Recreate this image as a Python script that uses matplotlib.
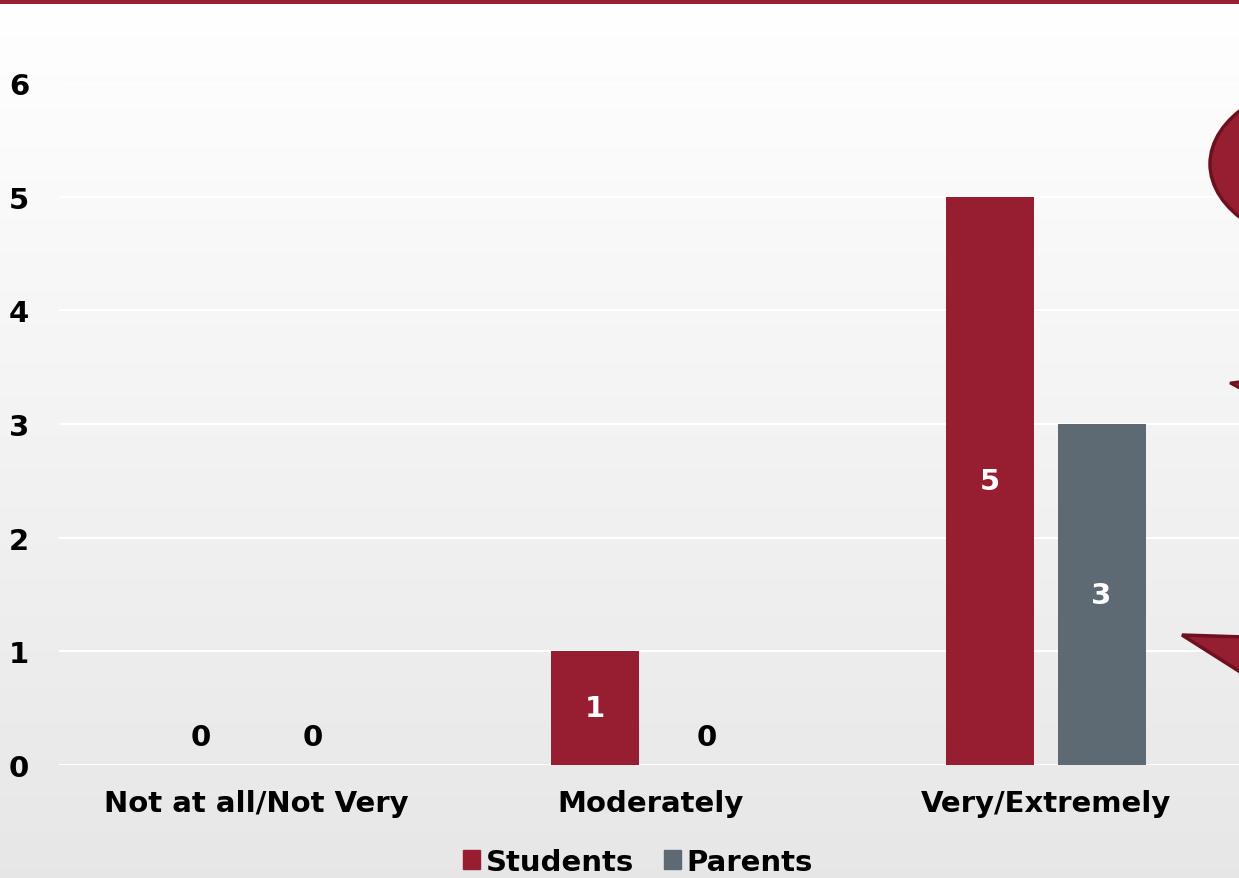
import matplotlib
matplotlib.use("Agg")
import matplotlib.pyplot as plt
import numpy as np
from matplotlib.patches import Ellipse, Polygon, Rectangle

categories = ["Not at all/Not Very", "Moderately", "Very/Extremely"]
students = [0, 1, 5]
parents = [0, 0, 3]
yticks = [0, 1, 2, 3, 4, 5, 6]

C_STU = "#971e30"
C_PAR = "#5e6a73"
FONT = "DejaVu Sans"
FS = 21

W, H = 1239, 879
fig = plt.figure(figsize=(W / 100, H / 100), dpi=100)

# background gradient
bg = fig.add_axes([0, 0, 1, 1], zorder=-10)
grad = np.linspace(1.0, 0.0, 256).reshape(-1, 1)
top_c = np.array([1.0, 1.0, 1.0])
bot_c = np.array([0.905, 0.905, 0.905])
img = grad[..., None] * top_c + (1 - grad[..., None]) * bot_c
bg.imshow(img, aspect="auto", extent=[0, 1, 0, 1], origin="upper")
bg.set_xlim(0, 1); bg.set_ylim(0, 1)
bg.axis("off")

def fx(px):
    return px / W

def fy(py):
    return 1 - py / H

ax_left = fx(59)
ax_bottom = fy(766)
ax_top = fy(84)
ax = fig.add_axes([ax_left, ax_bottom, 1 - ax_left, ax_top - ax_bottom])
ax.set_facecolor("none")

x = np.arange(len(categories))
bw = 0.223
off = 0.142
b1 = ax.bar(x - off, students, bw, color=C_STU, zorder=3)
b2 = ax.bar(x + off, parents, bw, color=C_PAR, zorder=3)

ax.set_xlim(-0.5, 2.49)
ax.set_ylim(0, 6)
ax.set_yticks(yticks)
ax.set_yticklabels([str(v) for v in yticks], fontsize=FS, fontweight="bold", family=FONT, ha="left")
ax.tick_params(axis="y", length=0, pad=36)
ax.set_xticks(x)
ax.set_xticklabels(categories, fontsize=FS, fontweight="bold", family=FONT)
ax.tick_params(axis="x", length=0, pad=17)
ax.grid(axis="y", color="white", lw=1.5, zorder=1)
for s in ax.spines.values():
    s.set_visible(False)

for bars, vals in ((b1, students), (b2, parents)):
    for rect, v in zip(bars, vals):
        cx = rect.get_x() + rect.get_width() / 2
        if v == 0:
            ax.annotate(str(v), (cx, 0), xytext=(0, 20), textcoords="offset points",
                        ha="center", va="center", fontsize=FS, fontweight="bold",
                        family=FONT, color="black", zorder=4)
        else:
            ax.text(cx, v / 2, str(v), ha="center", va="center", fontsize=FS,
                    fontweight="bold", family=FONT, color="white", zorder=4)

# legend
handles = [Rectangle((0, 0), 1, 1, color=C_STU), Rectangle((0, 0), 1, 1, color=C_PAR)]
leg = fig.legend(handles, ["Students", "Parents"], loc="center", bbox_to_anchor=(fx(638), fy(863)),
                 ncol=2, frameon=False, handlelength=0.6, handleheight=0.6, handletextpad=0.2,
                 columnspacing=1.0, prop={"family": FONT, "weight": "bold", "size": FS})

# decorative callout shape on the right
ov = fig.add_axes([0, 0, 1, 1], zorder=5)
ov.set_xlim(0, W); ov.set_ylim(H, 0)
ov.axis("off")
ov.add_patch(Ellipse((1345, 165), 270, 170, facecolor="#951e30", edgecolor="#6e1020", lw=2.5))
ov.add_patch(Polygon([(1230, 384), (1245, 382), (1245, 392)], closed=True,
                     facecolor="#951e30", edgecolor="#6e1020", lw=2))
ov.add_patch(Polygon([(1182, 636), (1245, 638), (1245, 676)], closed=True,
                     facecolor="#951e30", edgecolor="#6e1020", lw=2.5))

# top border
ov.add_patch(Rectangle((0, 0), W, 4.5, facecolor="#9b1f34", edgecolor="none"))

fig.savefig("out.png", dpi=100)
